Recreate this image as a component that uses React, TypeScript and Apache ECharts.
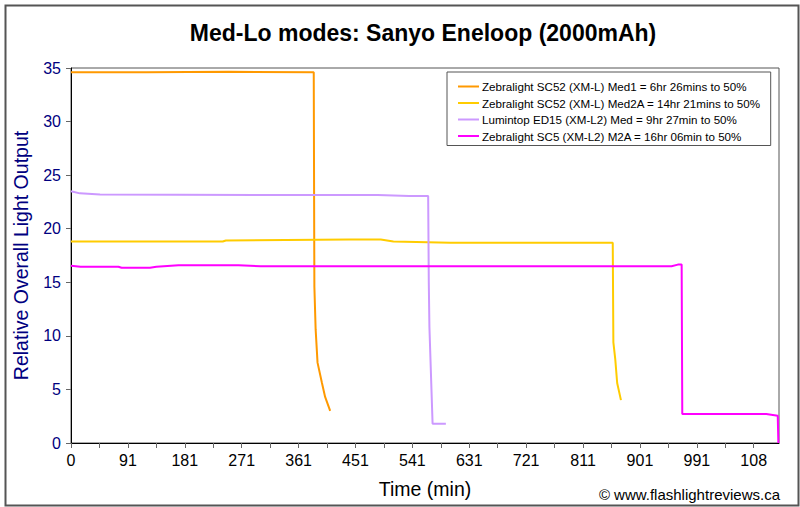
import React, { useEffect, useRef } from "react";
import * as echarts from "echarts";

const seriesNames = [
  "Zebralight SC52 (XM-L) Med1 = 6hr 26mins to 50%",
  "Zebralight SC52 (XM-L) Med2A = 14hr 21mins to 50%",
  "Lumintop ED15 (XM-L2) Med = 9hr 27min to 50%",
  "Zebralight SC5 (XM-L2) M2A = 16hr 06min to 50%",
];

// [time (min), relative output]
const sc52Med1 = [
  [0, 34.6], [120, 34.6], [250, 34.65], [384, 34.6],
  [385, 14.6], [387, 10.6], [390, 7.5], [397, 5.6], [402, 4.3], [410, 3.0],
];

const sc52Med2A = [
  [0, 18.8], [240, 18.8], [245, 18.9], [440, 19.0], [490, 19.0],
  [510, 18.8], [600, 18.7], [857, 18.7],
  [858, 9.4], [861, 7.8], [864, 5.6], [870, 4.0],
];

const ed15Med = [
  [0, 23.5], [14, 23.3], [46, 23.2], [330, 23.15], [485, 23.15],
  [535, 23.05], [565, 23.05], [566, 15], [567, 10.8], [572, 1.8], [593, 1.8],
];

const sc5M2A = [
  [0, 16.55], [15, 16.45], [75, 16.45], [80, 16.35], [125, 16.35],
  [135, 16.45], [170, 16.6], [265, 16.6], [300, 16.5], [950, 16.5],
  [960, 16.65], [966, 16.65], [967, 2.7], [1100, 2.7], [1118, 2.55], [1119, 0],
];

const seriesData = [sc52Med1, sc52Med2A, ed15Med, sc5M2A];
const seriesColors = ["#ff9900", "#ffcc00", "#cc99ff", "#ff00ff"];

const yTicks = [0, 5, 10, 15, 20, 25, 30, 35];

const xLabel = (v: number) => {
  if (v % 90 !== 0) return "";
  if (v === 0) return "0";
  if (v === 1080) return "108";
  return String(v + 1);
};

const App: React.FC = () => {
  const chartRef = useRef<HTMLDivElement>(null);

  useEffect(() => {
    if (!chartRef.current) return;
    const chart = echarts.init(chartRef.current, undefined, { renderer: "svg" });

    const option: echarts.EChartsOption = {
      animation: false,
      backgroundColor: "#ffffff",
      textStyle: { fontFamily: "Liberation Sans" },
      grid: {
        left: 71,
        top: 68,
        right: 21,
        bottom: 64,
        outerBoundsMode: "none",
        containLabel: false,
        show: true,
        borderColor: "#555555",
        borderWidth: 1,
      } as any,
      legend: {
        orient: "vertical",
        left: 447,
        top: 72,
        padding: [8, 10, 3, 11],
        itemGap: 3.5,
        itemWidth: 21,
        itemHeight: 2,
        icon: "rect",
        borderColor: "#555555",
        borderWidth: 1,
        backgroundColor: "#ffffff",
        textStyle: {
          fontSize: 11.6,
          lineHeight: 13,
          color: "#000000",
          padding: [0, 0, 0, -2],
        },
        data: seriesNames,
      },
      xAxis: {
        type: "value",
        min: 0,
        max: 1120,
        interval: 45,
        name: "Time (min)",
        nameLocation: "middle",
        nameGap: 36,
        nameTextStyle: { fontSize: 19.5, color: "#000000" },
        axisLine: { lineStyle: { color: "#000000", width: 1 } },
        axisTick: { show: true, inside: false, length: 5, lineStyle: { color: "#666666" } },
        axisLabel: {
          formatter: (v: number) => xLabel(v),
          fontSize: 16,
          color: "#000000",
          margin: 9,
          showMaxLabel: false,
        },
        splitLine: { show: false },
      },
      yAxis: {
        type: "value",
        min: yTicks[0],
        max: yTicks[yTicks.length - 1],
        interval: 5,
        name: "Relative Overall Light Output",
        nameLocation: "middle",
        nameGap: 40,
        nameTextStyle: { fontSize: 19.5, color: "#000080" },
        axisLine: { show: true, lineStyle: { color: "#000000", width: 1 } },
        axisTick: { show: true, inside: false, length: 5, lineStyle: { color: "#666666" } },
        axisLabel: { fontSize: 16, color: "#000080", margin: 10 },
        splitLine: { show: false },
      },
      graphic: [
        {
          type: "rect",
          left: 3,
          top: 3,
          shape: { width: 793, height: 500 },
          style: { fill: "none", stroke: "#555555", lineWidth: 2 },
          silent: true,
          z: 0,
        },
        {
          type: "text",
          x: 423,
          y: 33,
          style: {
            text: "Med-Lo modes: Sanyo Eneloop (2000mAh)",
            font: "bold 23px 'Liberation Sans'",
            fill: "#000000",
            align: "center",
            verticalAlign: "middle",
          },
        },
        {
          type: "text",
          x: 780,
          y: 494,
          style: {
            text: "© www.flashlightreviews.ca",
            font: "15px 'Liberation Sans'",
            fill: "#000000",
            align: "right",
            verticalAlign: "middle",
          },
        },
      ],
      series: seriesData.map((d, i) => ({
        name: seriesNames[i],
        type: "line",
        data: d,
        symbol: "none",
        showSymbol: false,
        color: seriesColors[i],
        lineStyle: { color: seriesColors[i], width: 2 },
        z: 2 + i,
      })),
    };

    chart.setOption(option as any);
    return () => {
      chart.dispose();
    };
  }, []);

  return (
    <div
      ref={chartRef}
      style={{ position: "absolute", left: 0, top: 0, width: 800, height: 507 }}
    />
  );
};

export default App;
